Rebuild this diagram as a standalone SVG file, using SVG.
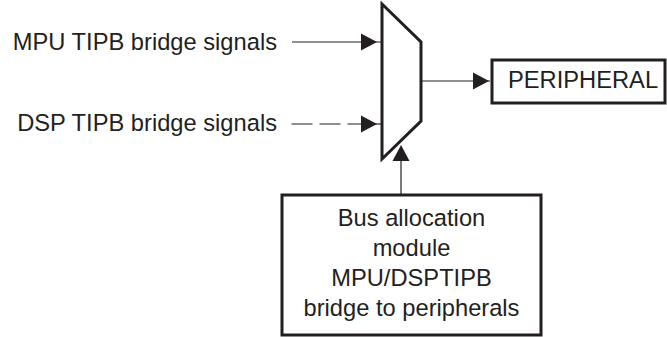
<svg xmlns="http://www.w3.org/2000/svg" width="667" height="337" viewBox="0 0 667 337">
  <style>
    .lbl { font-family: "Liberation Sans", Arial, Helvetica, sans-serif; font-size: 23.7px; fill: #231f20; }
    .box { fill: #ffffff; stroke: #231f20; stroke-width: 3; }
    .wire { stroke: #231f20; stroke-width: 1.2; fill: none; }
    .head { fill: #231f20; stroke: none; }
  </style>
  <rect width="667" height="337" fill="#ffffff"/>

  <!-- multiplexer -->
  <g id="mux">
    <polygon class="box" points="382,4 421,42 421,121 382,159" stroke-linejoin="miter"/>
  </g>

  <!-- peripheral block -->
  <g id="peripheral">
    <rect class="box" x="492" y="60" width="173" height="43"/>
    <text class="lbl" x="508" y="88">PERIPHERAL</text>
  </g>

  <!-- bus allocation module -->
  <g id="bus-allocation">
    <rect class="box" x="282" y="195" width="259" height="140"/>
    <text class="lbl" text-anchor="middle" x="411.5" y="226">Bus allocation</text>
    <text class="lbl" text-anchor="middle" x="411.5" y="256">module</text>
    <text class="lbl" text-anchor="middle" x="411.5" y="286">MPU/DSPTIPB</text>
    <text class="lbl" text-anchor="middle" x="411.5" y="316">bridge to peripherals</text>
  </g>

  <!-- input signal labels -->
  <g id="mpu-signals">
    <text class="lbl" text-anchor="end" x="277" y="50">MPU TIPB bridge signals</text>
  </g>
  <g id="dsp-signals">
    <text class="lbl" text-anchor="end" x="277" y="130.5">DSP TIPB bridge signals</text>
  </g>

  <!-- connectors -->
  <g id="connectors">
    <!-- MPU input -->
    <line class="wire" x1="292" y1="42" x2="382" y2="42"/>
    <polygon class="head" points="377,42 361,33.5 361,50.5"/>
    <!-- DSP input (dashed) -->
    <line class="wire" x1="291.5" y1="124" x2="362" y2="124" stroke-dasharray="21 7"/>
    <line class="wire" x1="370" y1="124" x2="382" y2="124"/>
    <polygon class="head" points="377,124 361,115.5 361,132.5"/>
    <!-- mux output to peripheral -->
    <line class="wire" x1="421" y1="81" x2="490" y2="81"/>
    <polygon class="head" points="489,81 473,72.5 473,89.5"/>
    <!-- select line from bus allocation -->
    <line class="wire" x1="401" y1="195" x2="401" y2="150"/>
    <polygon class="head" points="401,145 392.5,161 409.5,161"/>
  </g>
</svg>
